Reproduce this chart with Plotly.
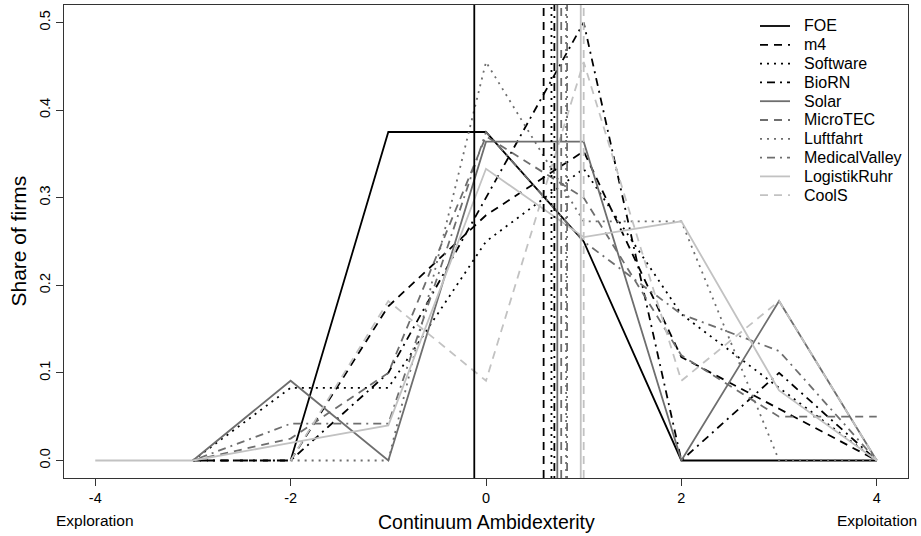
import plotly.graph_objects as go

x_vals = [-4, -3, -2, -1, 0, 1, 2, 3, 4]

FOE = [None, None, 0, 0.375, 0.375, 0.25, 0, 0, 0]
m4 = [None, 0, 0, 0.176, 0.28, 0.353, 0.118, 0.059, 0]
Software = [None, 0, 0.083, 0.083, 0.25, 0.333, 0.167, 0.083, 0]
BioRN = [None, 0, 0, 0.1, 0.3, 0.5, 0, 0.1, 0]
Solar = [None, 0, 0.091, 0, 0.364, 0.364, 0, 0.182, 0]
MicroTEC = [None, 0, 0.025, 0.1, 0.37, 0.3, 0.12, 0.05, 0.05]
Luftfahrt = [None, None, 0, 0, 0.455, 0.273, 0.273, 0, 0]
MedicalValley = [None, 0, 0.042, 0.042, 0.375, 0.25, 0.167, 0.125, 0]
LogistikRuhr = [0, 0, 0.02, 0.04, 0.333, 0.255, 0.273, 0.08, 0]
CoolS = [None, None, 0, 0.182, 0.091, 0.455, 0.091, 0.182, 0]

series_names = ["FOE", "m4", "Software", "BioRN", "Solar", "MicroTEC",
                "Luftfahrt", "MedicalValley", "LogistikRuhr", "CoolS"]
series_values = [FOE, m4, Software, BioRN, Solar, MicroTEC,
                 Luftfahrt, MedicalValley, LogistikRuhr, CoolS]
# mean positions (vertical lines)
means = [-0.12, 0.59, 0.67, 0.70, 0.73, 0.77, 0.82, 0.83, 0.97, 1.00]

x_tick_vals = [-4, -2, 0, 2, 4]
x_tick_text = ["-4", "-2", "0", "2", "4"]
y_tick_vals = [0.0, 0.1, 0.2, 0.3, 0.4, 0.5]
end_labels = ["Exploration", "Exploitation"]
x_title = "Continuum Ambidexterity"
y_title = "Share of firms"

BLACK = "#000000"
GRAY = "#6e6e6e"
LIGHT = "#c2c2c2"
colors = [BLACK, BLACK, BLACK, BLACK, GRAY, GRAY, GRAY, GRAY, LIGHT, LIGHT]
SOLID = "solid"
DASH = "8px,6px"
DOT = "2px,5px"
DASHDOT = "2px,5px,8px,5px"
dashes = [SOLID, DASH, DOT, DASHDOT, SOLID, DASH, DOT, DASHDOT, SOLID, DASH]
LW = 1.8

FONT = "Liberation Sans, Arial, sans-serif"

# figure geometry (pixels)
W, H = 921, 536
ML, MR, MT, MB = 64, 13, 5, 58
PW = W - ML - MR
PH = H - MT - MB


def px_to_paper_x(px):
    return (px - ML) / PW


def px_to_paper_y(py):
    return (H - MB - py) / PH


fig = go.Figure()
for name, vals, col, dsh in zip(series_names, series_values, colors, dashes):
    fig.add_trace(go.Scatter(
        x=x_vals, y=vals, mode="lines", name=name,
        line=dict(color=col, width=LW, dash=dsh),
        connectgaps=False, showlegend=False, hoverinfo="skip",
    ))

for m, col, dsh in zip(means, colors, dashes):
    fig.add_shape(type="line", xref="x", yref="paper", x0=m, x1=m, y0=0, y1=1,
                  line=dict(color=col, width=LW, dash=dsh), layer="above")

# legend drawn inside the plot, top-right
leg_x0, leg_x1, leg_tx = 760, 790, 802
leg_y0, leg_dy = 26, 18.8
for i, (name, col, dsh) in enumerate(zip(series_names, colors, dashes)):
    yy = px_to_paper_y(leg_y0 + i * leg_dy)
    fig.add_shape(type="line", xref="paper", yref="paper",
                  x0=px_to_paper_x(leg_x0), x1=px_to_paper_x(leg_x1),
                  y0=yy, y1=yy, line=dict(color=col, width=LW, dash=dsh))
    fig.add_annotation(x=px_to_paper_x(leg_tx), y=yy, xref="paper", yref="paper",
                       text=name, showarrow=False, xanchor="left", yanchor="middle",
                       font=dict(family=FONT, size=16, color="#000"))

lab_y = px_to_paper_y(520)
fig.add_annotation(x=-4, y=lab_y, xref="x", yref="paper", text=end_labels[0],
                   showarrow=False, font=dict(family=FONT, size=15.5, color="#000"),
                   yanchor="middle")
fig.add_annotation(x=4, y=lab_y, xref="x", yref="paper", text=end_labels[1],
                   showarrow=False, font=dict(family=FONT, size=15.5, color="#000"),
                   yanchor="middle")
fig.add_annotation(x=0.5, y=px_to_paper_y(522), xref="paper", yref="paper",
                   text=x_title, showarrow=False,
                   font=dict(family=FONT, size=19.5, color="#000"), yanchor="middle")
fig.add_annotation(x=px_to_paper_x(18), y=0.5, xref="paper", yref="paper",
                   text=y_title, showarrow=False, textangle=-90,
                   font=dict(family=FONT, size=21, color="#000"),
                   xanchor="center", yanchor="middle")

fig.update_layout(
    width=W, height=H,
    margin=dict(l=ML, r=MR, t=MT, b=MB),
    plot_bgcolor="white", paper_bgcolor="white",
    font=dict(family=FONT, size=14.5, color="#000"),
    showlegend=False,
    xaxis=dict(range=[-4.32, 4.32], tickvals=x_tick_vals, ticktext=x_tick_text,
               ticks="outside", ticklen=7, tickcolor="#333", showgrid=False,
               zeroline=False, showline=True, mirror=True, linecolor="#333",
               linewidth=1, automargin=False),
    yaxis=dict(range=[-0.02, 0.52], tickvals=y_tick_vals, tickformat=".1f",
               tickangle=-90, ticks="outside", ticklen=7, tickcolor="#333",
               showgrid=False, zeroline=False, showline=True, mirror=True,
               linecolor="#333", linewidth=1, automargin=False),
)

fig.write_html("out.html",
               config={"displayModeBar": False},
               post_script="document.body.style.margin='0';"
                           "document.body.style.padding='0';"
                           "document.body.style.overflow='hidden';")
